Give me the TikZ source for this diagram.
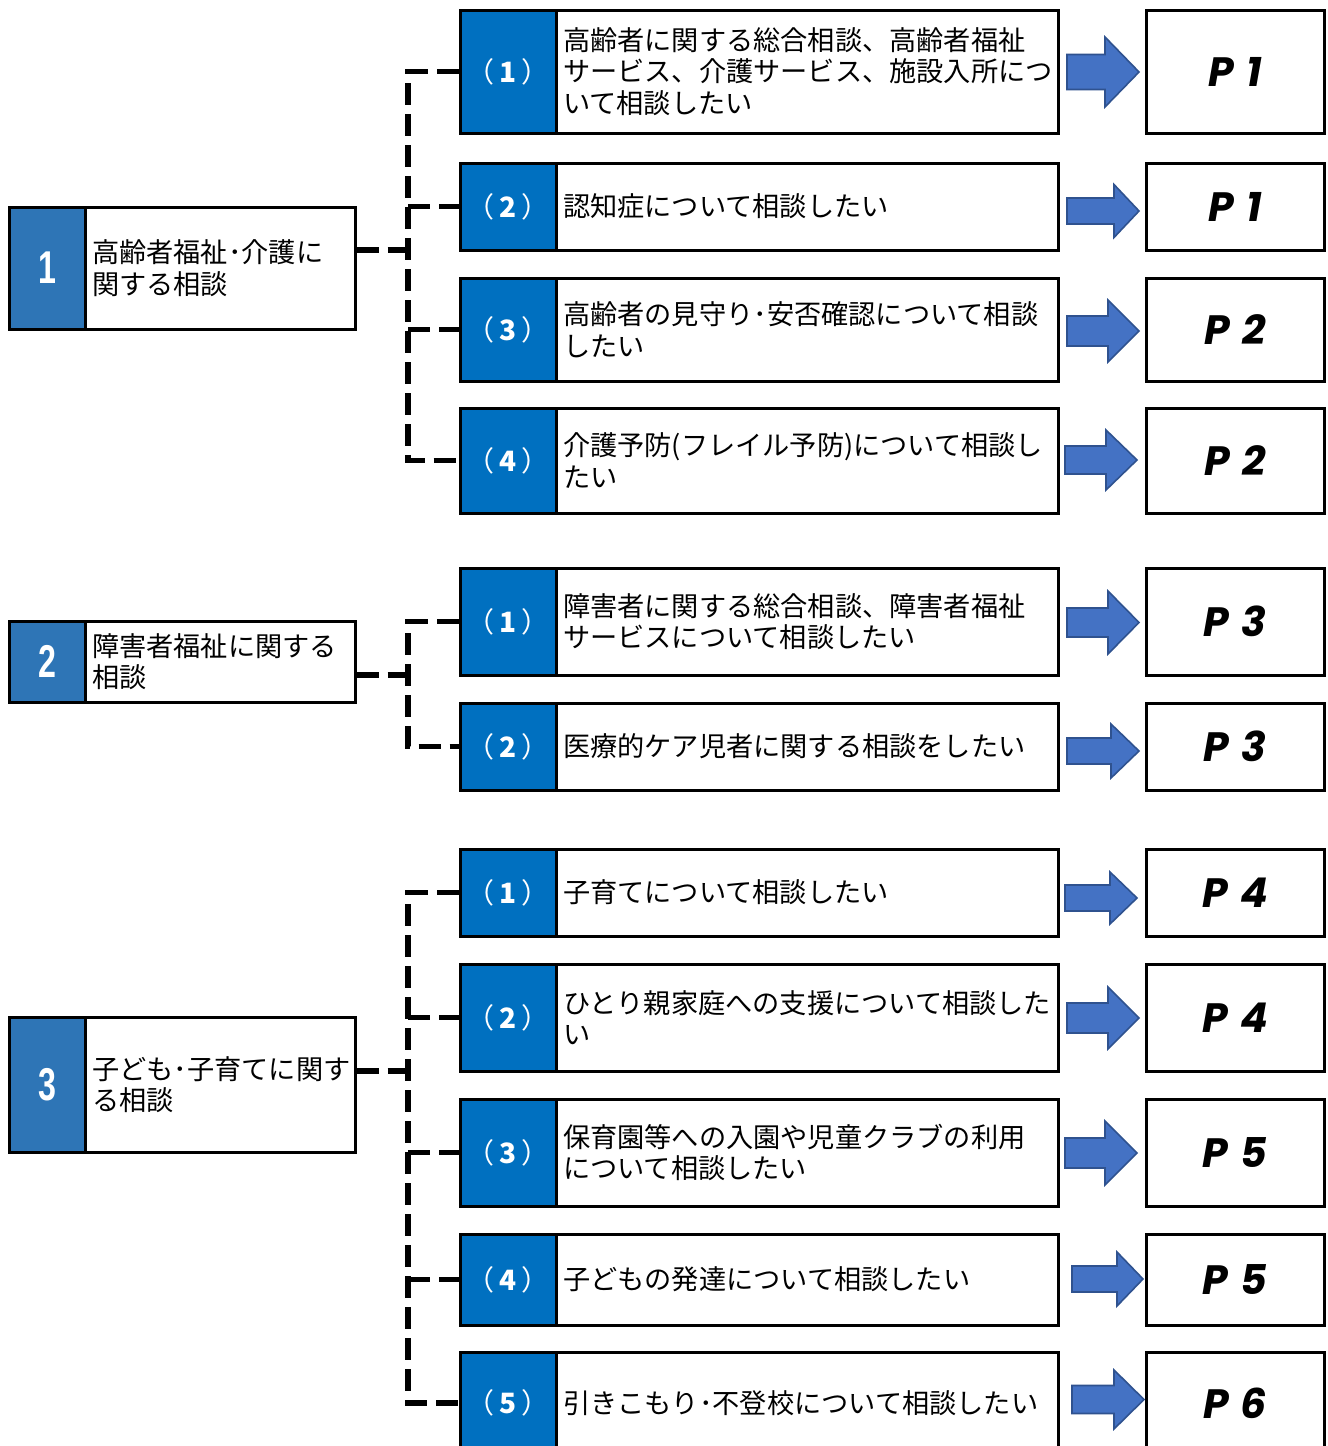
\documentclass[tikz,border=0pt]{standalone}
\usepackage{fontspec}
\usepackage{graphicx}
\usetikzlibrary{calc}
\newfontfamily\jp{Noto Sans CJK JP}
\newfontfamily\lat{Liberation Sans}
\newfontfamily\pfont{Poppins}
\definecolor{leftblue}{HTML}{2E75B6}
\definecolor{midblue}{HTML}{0070C0}
\definecolor{arrfill}{HTML}{4472C4}
\definecolor{arrline}{HTML}{2F528F}
\tikzset{
 boxframe/.style={draw=black, line width=1.5pt, fill=white, rectangle, inner sep=0pt},
 midbox/.style={boxframe, minimum width=299pt},
 numcell/.style={boxframe, fill=midblue, minimum width=48pt, text=white, font=\jp\fontsize{14}{16}\selectfont},
 leftbox/.style={boxframe, minimum width=173pt},
 leftnum/.style={boxframe, fill=leftblue, minimum width=38pt, text=white, font=\lat\bfseries\fontsize{23}{26}\selectfont},
 jtext/.style={inner sep=0pt, align=left, font=\jp\fontsize{13.6}{15.8}\selectfont, text=black},
 pagebox/.style={boxframe, minimum width=89pt, font=\pfont\bfseries\itshape\fontsize{20.5}{24}\selectfont},
 conn/.style={line width=2.7pt, dash pattern=on 11pt off 4.5pt, line cap=butt},
 blockarrow/.style={draw=arrline, fill=arrfill, line width=0.8pt, line join=miter},
}
% row: id, top, bottom, number, text, page
\newcommand\mkrow[6]{%
  \pgfmathsetmacro\rowc{(#2+#3)/2}%
  \pgfmathsetmacro\rowh{(#3-#2)/2}%
  \node[midbox, minimum height=\rowh pt] (m#1) at (759,\rowc) {};
  \node[numcell, minimum height=\rowh pt, anchor=west] (n#1) at (m#1.west) {（\hspace{2.5pt}{\bfseries #4}\hspace{2.5pt}）};
  \node[jtext, anchor=west] (t#1) at ([xshift=2.6pt]n#1.east) {#5};
  \node[pagebox, minimum height=\rowh pt] (p#1) at (1235,\rowc) {P\hspace{0.3em}#6};
}
% left box: id, top, bottom, number, text
\newcommand\mkleft[5]{%
  \pgfmathsetmacro\rowc{(#2+#3)/2}%
  \pgfmathsetmacro\rowh{(#3-#2)/2}%
  \node[leftbox, minimum height=\rowh pt] (L#1) at (182,\rowc) {};
  \node[leftnum, minimum height=\rowh pt, anchor=west] (ln#1) at (L#1.west) {\scalebox{0.7}[1]{#4}};
  \node[jtext, anchor=west] (lt#1) at ([xshift=2.6pt]ln#1.east) {#5};
}
% arrow: x1, x2, head x, shaft half, head half, centre y
\newcommand\mkarrow[6]{%
  \draw[blockarrow] ({#1},{#6-#4}) -- ({#3},{#6-#4}) -- ({#3},{#6-#5}) -- ({#2},{#6})
    -- ({#3},{#6+#5}) -- ({#3},{#6+#4}) -- ({#1},{#6+#4}) -- cycle;
}
\begin{document}
\begin{tikzpicture}[x=0.5pt, y=-0.5pt]
\clip (0,0) rectangle (1328,1446);
\fill[white] (0,0) rectangle (1328,1446);

% ---------- group 1 ----------
\mkleft{1}{207}{329}{1}{高齢者福祉･介護に\\関する相談}
\mkrow{11}{10}{133}{1}{高齢者に関する総合相談、高齢者福祉\\サービス、介護サービス、施設入所につ\\いて相談したい}{1}
\mkarrow{1067}{1139}{1105}{17.5}{35}{72}
\mkrow{12}{163}{250}{2}{認知症について相談したい}{1}
\mkarrow{1067}{1139}{1114}{13}{26.5}{211}
\mkrow{13}{278}{381}{3}{高齢者の見守り･安否確認について相談\\したい}{2}
\mkarrow{1067}{1139}{1108}{15}{31}{331}
\mkrow{14}{408}{513}{4}{介護予防(フレイル予防)について相談し\\たい}{2}
\mkarrow{1065}{1137}{1106}{14}{30}{460}

\coordinate (j1) at (408,250);
\draw[conn] (L1.east |- j1) -- (j1);
\draw[conn] (m11.west) -| (j1) |- (m14.west);
\draw[conn] (j1 |- m12.west) -- (m12.west);
\draw[conn] (j1 |- m13.west) -- (m13.west);

% ---------- group 2 ----------
\mkleft{2}{621}{702}{2}{障害者福祉に関する\\相談}
\mkrow{21}{568}{675}{1}{障害者に関する総合相談、障害者福祉\\サービスについて相談したい}{3}
\mkarrow{1067}{1139}{1108}{14.5}{31.5}{622.5}
\mkrow{22}{703}{790}{2}{医療的ケア児者に関する相談をしたい}{3}
\mkarrow{1067}{1139}{1111}{13}{27}{751}

\coordinate (j2) at (408,675);
\draw[conn] (L2.east |- j2) -- (j2);
\draw[conn] (m21.west) -| (j2) |- (m22.west);

% ---------- group 3 ----------
\mkleft{3}{1017}{1152}{3}{子ども･子育てに関す\\る相談}
\mkrow{31}{849}{936}{1}{子育てについて相談したい}{4}
\mkarrow{1065}{1137}{1110}{13}{26}{898}
\mkrow{32}{964}{1071}{2}{ひとり親家庭への支援について相談した\\い}{4}
\mkarrow{1067}{1139}{1108}{15}{31}{1018}
\mkrow{33}{1099}{1206}{3}{保育園等への入園や児童クラブの利用\\について相談したい}{5}
\mkarrow{1065}{1137}{1105}{15}{32}{1153}
\mkrow{34}{1234}{1325}{4}{子どもの発達について相談したい}{5}
\mkarrow{1072}{1143}{1117}{13}{27}{1279}
\mkrow{35}{1352}{1454}{5}{引きこもり･不登校について相談したい}{6}
\mkarrow{1072}{1144}{1114}{14}{29.5}{1399.5}

\coordinate (j3) at (408,1071);
\draw[conn] (L3.east |- j3) -- (j3);
\draw[conn] (m31.west) -| (j3) |- (m35.west);
\draw[conn] (j3 |- m32.west) -- (m32.west);
\draw[conn] (j3 |- m33.west) -- (m33.west);
\draw[conn] (j3 |- m34.west) -- (m34.west);
\end{tikzpicture}
\end{document}
